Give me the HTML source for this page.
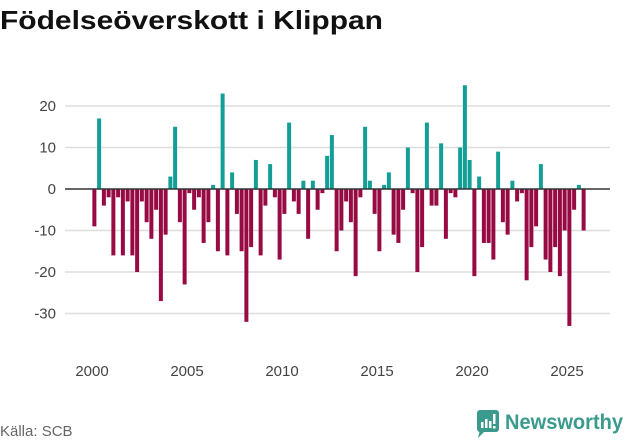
<!DOCTYPE html>
<html><head><meta charset="utf-8"><style>
body{margin:0;background:#fff;width:631px;height:439px;overflow:hidden;font-family:"Liberation Sans",sans-serif}
</style></head><body>
<svg id="chart" width="631" height="439">
<text x="0" y="29" font-size="26" font-weight="bold" fill="#111" textLength="383" lengthAdjust="spacingAndGlyphs">Födelseöverskott i Klippan</text>
<g id="grid"></g><g id="bars"></g><g id="axes"></g>
<text x="0" y="436" font-size="15" fill="#666">Källa: SCB</text>
<g>
<rect x="477" y="410" width="22" height="22" rx="3" fill="#3a9a8c"/>
<path d="M480 430 L478 438 L486 430 Z" fill="#3a9a8c"/>
<rect x="481" y="422" width="2.5" height="6" fill="#fff"/><rect x="485" y="419" width="2.5" height="9" fill="#fff"/><rect x="489" y="421" width="2.5" height="7" fill="#fff"/><rect x="493" y="414" width="2.5" height="10" fill="#fff"/><rect x="493" y="426" width="2.5" height="2.5" fill="#fff"/>
<text x="505" y="429" font-size="21" font-weight="bold" fill="#3a9a8c" textLength="118" lengthAdjust="spacingAndGlyphs">Newsworthy</text>
</g>
</svg>
<script>
const values = [-9,17,-4,-2,-16,-2,-16,-3,-16,-20,-3,-8,-12,-5,-27,-11,3,15,-8,-23,-1,-5,-2,-13,-8,1,-15,23,-16,4,-6,-15,-32,-14,
7,-16,-4,6,-2,-17,-6,16,-3,-6,2,-12,2,-5,-1,8,13,-15,-10,-3,-8,-21,-2,15,2,-6,-15,1,4,-11,-13,-5,
10,-1,-20,-14,16,-4,-4,11,-12,-1,-2,10,25,7,-21,3,-13,-13,-17,9,-8,-11,2,-3,-1,-22,-14,-9,6,-17,-20,-14,-21,-10,-33,-5,1,-10];
const startYear = 2000;
const yTicks = [-30,-20,-10,0,10,20];
const xTicks = [2000,2005,2010,2015,2020,2025];
const ns="http://www.w3.org/2000/svg";
const y = v => 189 - v*4.15;
const x = yr => 92 + (yr-2000)*19;
const grid=document.getElementById('grid'), bars=document.getElementById('bars'), axes=document.getElementById('axes');
function mk(tag,attrs,parent){const e=document.createElementNS(ns,tag);for(const k in attrs)e.setAttribute(k,attrs[k]);parent.appendChild(e);return e;}
yTicks.forEach(t=>{
  if(t!==0){const l=mk('line',{x1:65,x2:610,y1:y(t),y2:y(t),stroke:'#ddd','stroke-width':1.5},grid);
  
  }
  const tx=mk('text',{x:56,y:y(t)+5,'font-size':15,fill:'#444','text-anchor':'end'},axes);
  tx.textContent=t;
  
  
});
xTicks.forEach(t=>{
  const tx=mk('text',{x:x(t),y:376,'font-size':15,fill:'#444','text-anchor':'middle'},axes);
  tx.textContent=t;
  
  
});
values.forEach((v,i)=>{
  const cx=x(startYear+(i+0.5)/4);
  const r=mk('rect',{x:cx-2,width:4,y:Math.min(y(v),y(0)),height:Math.abs(y(v)-y(0)),fill:v>=0?'#139e96':'#970a43'},bars);
  
  
});
const z=mk('line',{x1:65,x2:610,y1:y(0),y2:y(0),stroke:'#333','stroke-width':1.5},axes);


</script>
</body></html>
